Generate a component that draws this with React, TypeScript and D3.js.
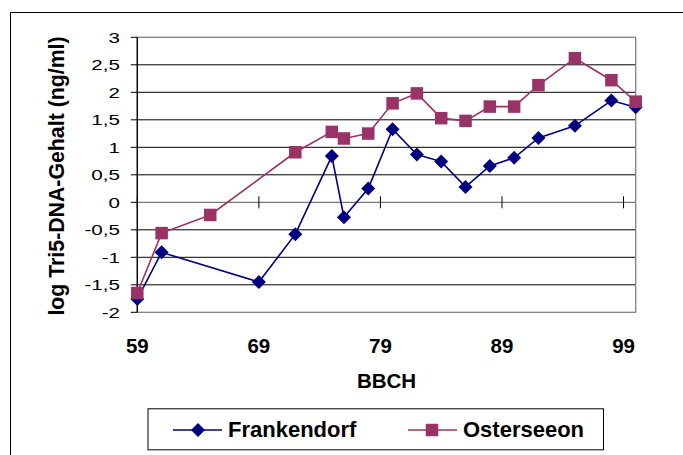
import React from "react";
import * as d3 from "d3";

const bbch = [59, 61, 65, 69, 72, 75, 76, 78, 80, 82, 84, 86, 88, 90, 92, 95, 98, 100];

const frankX = [59, 61, 69, 72, 75, 76, 78, 80, 82, 84, 86, 88, 90, 92, 95, 98, 100];
const frankendorf = [-1.76, -0.91, -1.45, -0.58, 0.84, -0.27, 0.25, 1.33, 0.87, 0.74, 0.28, 0.66, 0.81, 1.17, 1.39, 1.85, 1.73];

const osterX = [59, 61, 65, 72, 75, 76, 78, 80, 82, 84, 86, 88, 90, 92, 95, 98, 100];
const osterseeon = [-1.65, -0.56, -0.23, 0.91, 1.28, 1.16, 1.25, 1.8, 1.98, 1.53, 1.48, 1.74, 1.74, 2.13, 2.62, 2.22, 1.83];

const xTicks = [59, 69, 79, 89, 99];
const yTicks = [-2, -1.5, -1, -0.5, 0, 0.5, 1, 1.5, 2, 2.5, 3];

const seriesNames = ["Frankendorf", "Osterseeon"];
const seriesColors = ["#000080", "#993366"];

const FONT = "'Liberation Sans', Arial, sans-serif";

const fmt = (v: number) => String(v).replace(".", ",");

function Diamond({ cx, cy, r, fill }: { cx: number; cy: number; r: number; fill: string }) {
  return (
    <path
      d={`M${cx},${cy - r}L${cx + r},${cy}L${cx},${cy + r}L${cx - r},${cy}Z`}
      fill={fill}
    />
  );
}

function Square({ cx, cy, s, fill }: { cx: number; cy: number; s: number; fill: string }) {
  return <rect x={cx - s / 2} y={cy - s / 2} width={s} height={s} fill={fill} />;
}

export default function App() {
  const left = 137.3;
  const right = 635.7;
  const top = 37.3;
  const bottom = 312.3;

  const x = d3.scaleLinear().domain([59, 100]).range([left, right]);
  const y = d3.scaleLinear().domain([-2, 3]).range([bottom, top]);

  const line = d3
    .line<[number, number]>()
    .x((d) => x(d[0]))
    .y((d) => y(d[1]));

  const fData: [number, number][] = frankX.map((v, i) => [v, frankendorf[i]]);
  const oData: [number, number][] = osterX.map((v, i) => [v, osterseeon[i]]);

  const y0 = y(0);

  return (
    <svg
      width={683}
      height={455}
      style={{ position: "absolute", left: 0, top: 0, background: "#fff" }}
    >
      <rect x={0} y={0} width={683} height={455} fill="#fff" />
      {/* outer frame */}
      <rect x={10.5} y={12.5} width={700} height={500} fill="none" stroke="#000" strokeWidth={1} />

      {/* gridlines */}
      {yTicks
        .filter((t) => t !== -2 && t !== 3)
        .map((t) => (
          <line key={t} x1={left} x2={right} y1={y(t)} y2={y(t)} stroke={t === 0 ? "#555" : "#000"} strokeWidth={1} />
        ))}

      {/* plot border */}
      <rect x={left} y={top} width={right - left} height={bottom - top} fill="none" stroke="#808080" strokeWidth={1.3} />

      {/* y axis */}
      <line x1={left} x2={left} y1={top} y2={bottom} stroke="#000" strokeWidth={1.3} />
      {yTicks.map((t) => (
        <line key={"yt" + t} x1={left - 6.5} x2={left} y1={y(t)} y2={y(t)} stroke="#000" strokeWidth={1} />
      ))}
      {yTicks.map((t) => (
        <text
          key={"yl" + t}
          transform={`translate(120,${y(t) + 5.4}) scale(1.33,1)`}
          textAnchor="end"
          fontFamily={FONT}
          fontSize={15.5}
          fill="#000"
        >
          {fmt(t)}
        </text>
      ))}

      {/* x axis ticks (cross) */}
      {xTicks.map((t) => (
        <line key={"xt" + t} x1={x(t)} x2={x(t)} y1={y0 - 6} y2={y0 + 6} stroke="#000" strokeWidth={1} />
      ))}
      {xTicks.map((t) => (
        <text
          key={"xl" + t}
          x={x(t)}
          y={352.5}
          textAnchor="middle"
          fontFamily={FONT}
          fontWeight="bold"
          fontSize={20.5}
          fill="#000"
        >
          {t}
        </text>
      ))}

      {/* axis titles */}
      <text
        x={(left + right) / 2}
        y={388.3}
        textAnchor="middle"
        fontFamily={FONT}
        fontWeight="bold"
        fontSize={20.5}
        fill="#000"
      >
        BBCH
      </text>
      <text
        transform={`translate(64,176) rotate(-90)`}
        textAnchor="middle"
        fontFamily={FONT}
        fontWeight="bold"
        fontSize={21.3}
        fill="#000"
      >
        log Tri5-DNA-Gehalt (ng/ml)
      </text>

      {/* Frankendorf series */}
      <path d={line(fData) || ""} fill="none" stroke={seriesColors[0]} strokeWidth={1.6} />
      {fData.map((d, i) => (
        <Diamond key={"f" + i} cx={x(d[0])} cy={y(d[1])} r={7} fill={seriesColors[0]} />
      ))}

      {/* Osterseeon series */}
      <path d={line(oData) || ""} fill="none" stroke={seriesColors[1]} strokeWidth={1.6} />
      {oData.map((d, i) => (
        <Square key={"o" + i} cx={x(d[0])} cy={y(d[1])} s={12.5} fill={seriesColors[1]} />
      ))}

      {/* legend */}
      <rect x={148} y={408.8} width={455.5} height={41} fill="#fff" stroke="#000" strokeWidth={1} />
      <line x1={173} x2={222} y1={430} y2={430} stroke={seriesColors[0]} strokeWidth={1.6} />
      <Diamond cx={198} cy={430} r={7} fill={seriesColors[0]} />
      <text x={228} y={436.5} fontFamily={FONT} fontWeight="bold" fontSize={22} fill="#000">
        {seriesNames[0]}
      </text>
      <line x1={408} x2={457} y1={430} y2={430} stroke={seriesColors[1]} strokeWidth={1.6} />
      <Square cx={432} cy={430} s={12.5} fill={seriesColors[1]} />
      <text x={463} y={436.5} fontFamily={FONT} fontWeight="bold" fontSize={22} fill="#000">
        {seriesNames[1]}
      </text>
    </svg>
  );
}
